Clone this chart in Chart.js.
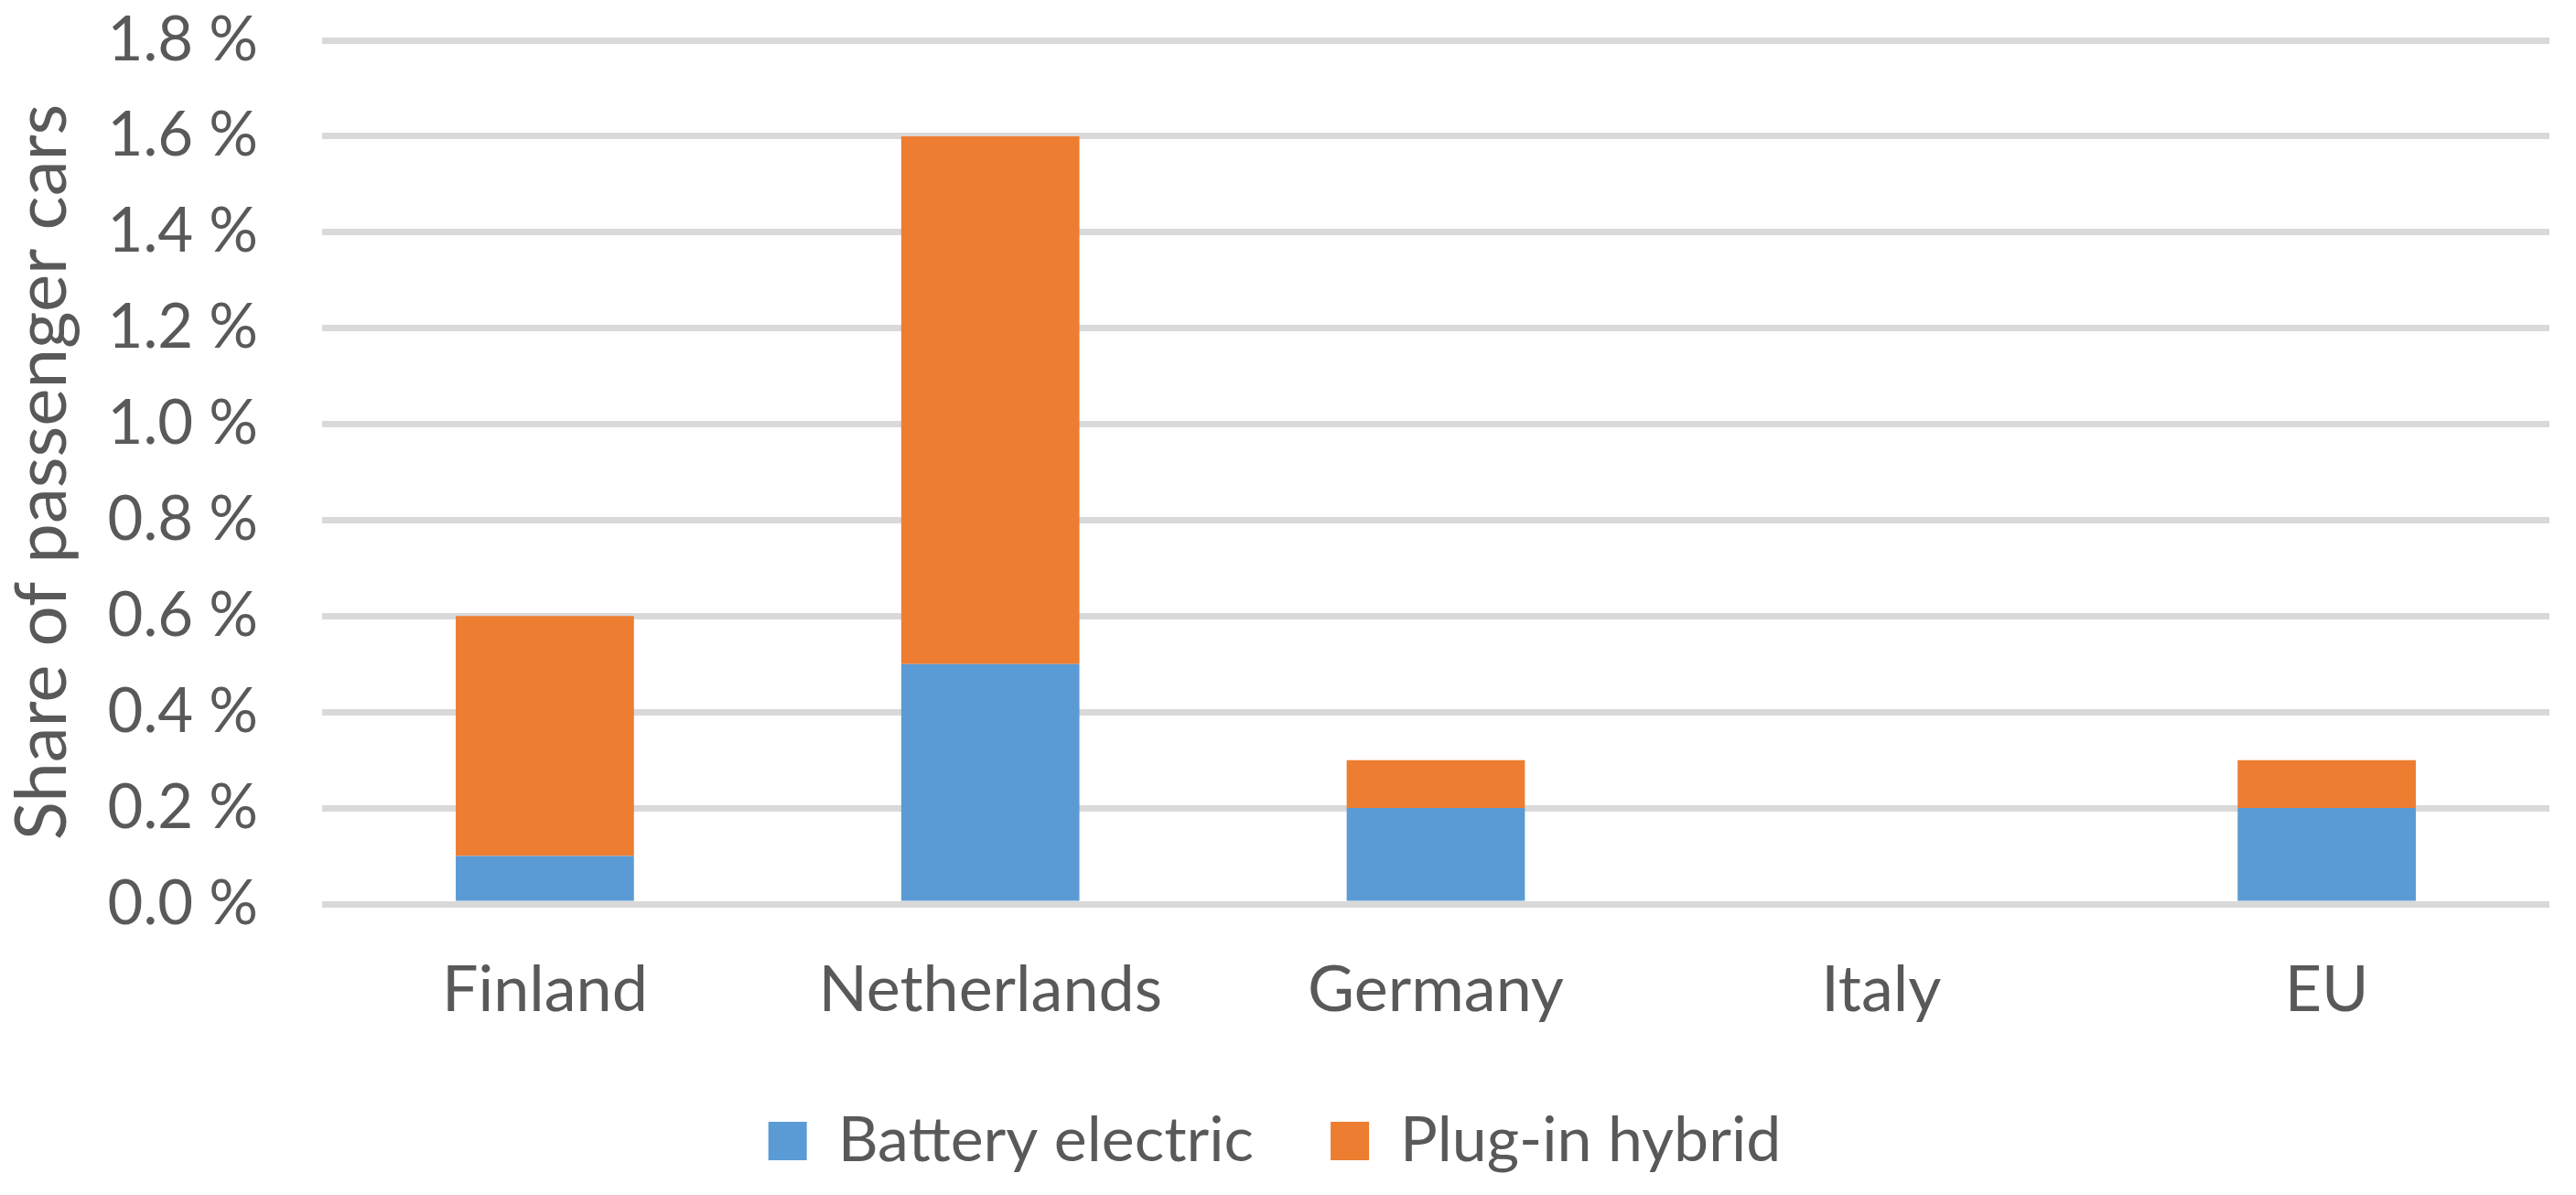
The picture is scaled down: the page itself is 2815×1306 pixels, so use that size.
<!DOCTYPE html>
<html><head><meta charset="utf-8">
<script src="https://cdn.jsdelivr.net/npm/chart.js@4/dist/chart.umd.min.js"></script>
<style>html,body{margin:0;padding:0;background:#fff;overflow:hidden}#wrap{width:2815px;height:1306px;position:relative}canvas{display:block}</style>
</head><body><div id="wrap"><canvas id="c" width="2815" height="1306"></canvas></div>
<script>
const categories = ['Finland', 'Netherlands', 'Germany', 'Italy', 'EU'];
const batteryElectric = [0.1, 0.5, 0.2, 0.0, 0.2];
const plugInHybrid = [0.5, 1.1, 0.1, 0.0, 0.1];
const seriesNames = ['Battery electric', 'Plug-in hybrid'];
const yTickValues = [0, 0.2, 0.4, 0.6, 0.8, 1.0, 1.2, 1.4, 1.6, 1.8];
const yTitle = 'Share of passenger cars';

const FONT = 'Lato, Calibri, Carlito, "Open Sans", sans-serif';
const TEXT = '#595959';
const PAD_BOTTOM = 15;
const PLOT_BOTTOM = 988;

// let x-axis labels draw outside the axis box (no clipping)
const noLabelClip = {
  id: 'noLabelClip',
  afterLayout(chart) {
    const xs = chart.scales.x;
    if (xs) xs._computeLabelArea = () => undefined;
  }
};

new Chart(document.getElementById('c'), {
  type: 'bar',
  data: {
    labels: categories,
    datasets: [
      { label: seriesNames[0], data: batteryElectric, backgroundColor: '#5B9BD5', borderWidth: 0 },
      { label: seriesNames[1], data: plugInHybrid, backgroundColor: '#ED7D31', borderWidth: 0 }
    ]
  },
  plugins: [noLabelClip],
  options: {
    responsive: false,
    animation: false,
    devicePixelRatio: 1,
    layout: { padding: { top: 44, left: 0, right: 29, bottom: PAD_BOTTOM } },
    datasets: { bar: { barPercentage: 0.4, categoryPercentage: 1.0 } },
    plugins: {
      legend: {
        position: 'bottom',
        labels: {
          color: TEXT,
          font: { family: FONT, size: 68 },
          boxWidth: 42, boxHeight: 42,
          padding: 84
        }
      },
      tooltip: { enabled: false }
    },
    scales: {
      x: {
        stacked: true,
        grid: { display: false, drawTicks: false },
        border: { display: false },
        ticks: { color: TEXT, font: { family: FONT, size: 70 }, padding: 52, maxRotation: 0, autoSkip: false },
        afterFit: (s) => { s.height = 1306 - PAD_BOTTOM - s.chart.legend.height - PLOT_BOTTOM; }
      },
      y: {
        stacked: true,
        min: 0, max: 1.8,
        afterBuildTicks: (s) => { s.ticks = yTickValues.map(v => ({ value: v })); },
        grid: { color: '#D9D9D9', lineWidth: 7, drawTicks: true, tickLength: 70, tickColor: 'rgba(0,0,0,0)' },
        border: { display: false },
        ticks: {
          color: TEXT, font: { family: FONT, size: 67 }, padding: 0,
          callback: (v) => Number(v).toFixed(1) + ' %'
        },
        title: { display: true, text: yTitle, color: TEXT, font: { family: FONT, size: 78 }, padding: 0 },
        afterFit: (s) => { s.width = 352; }
      }
    }
  }
});
</script>
</body></html>
